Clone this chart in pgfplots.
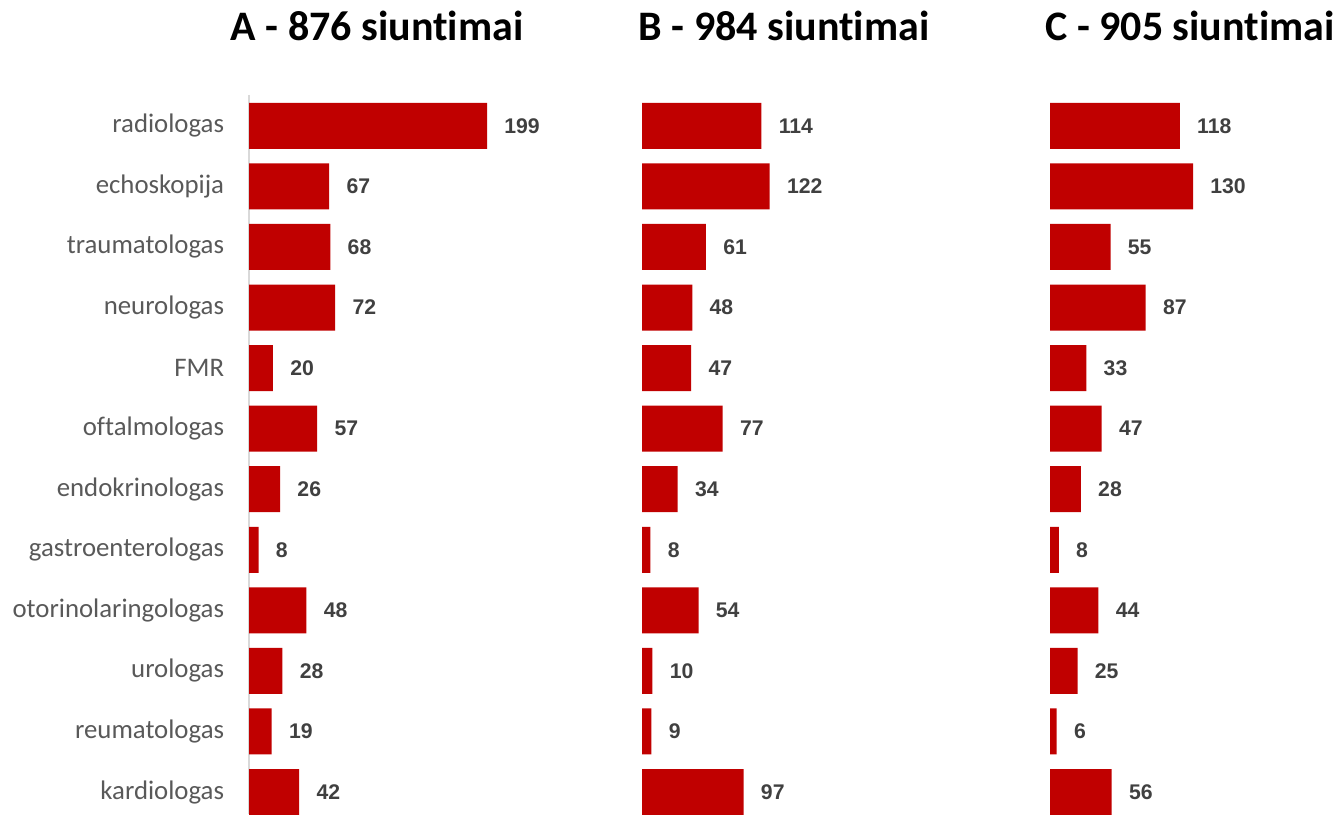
\documentclass[border=0pt]{standalone}
\usepackage{pgfplots}
\pgfplotsset{compat=1.18}
\usepackage{fontspec}
\setmainfont{Carlito}[Ligatures=NoCommon]
\newfontfamily\valfont{Liberation Sans}
\definecolor{barred}{HTML}{C00000}
\definecolor{catgray}{HTML}{595959}
\definecolor{valgray}{HTML}{404040}
\definecolor{axgray}{HTML}{D9D9D9}

\pgfplotsset{
  panel/.style={
    xbar, y dir=reverse, y=30.28pt,
    ymin=-0.512, ymax=11.363, xmin=0,
    anchor=south west, bar width=0.76,
    clip=false,
    axis x line=none,
    xtick=\empty,
    point meta=x,
    /pgf/number format/assume math mode=true,
    nodes near coords,
    nodes near coords style={font=\valfont\bfseries\fontsize{10.6}{12}\selectfont,
      text=valgray, anchor=west, inner sep=0pt, xshift=8.5pt},
  },
  redbar/.style={fill=barred, draw=none},
}

\begin{document}
\begin{tikzpicture}
\useasboundingbox (0,0) rectangle (668.5pt,407pt);

% A
\begin{axis}[panel, at={(124.5pt,0pt)}, x=0.598pt, xmax=260,
  axis y line*=left,
  y axis line style={draw=axgray, line width=1pt, -},
  ytick={0,...,11},
  ytick style={draw=none},
  yticklabels={radiologas, echoskopija, traumatologas, neurologas, FMR,
    oftalmologas, endokrinologas, gastroenterologas, otorinolaringologas,
    urologas, reumatologas, kardiologas},
  yticklabel style={font=\fontsize{13.4}{15}\selectfont, text=catgray,
    anchor=east, inner sep=0pt, xshift=-8pt},
]
\addplot[redbar] coordinates {(199,0) (67,1) (68,2) (72,3) (20,4) (57,5)
  (26,6) (8,7) (48,8) (28,9) (19,10) (42,11)};
\end{axis}

% B
\begin{axis}[panel, at={(321pt,0pt)}, x=0.5235pt, xmax=180,
  axis y line=none, ytick=\empty]
\addplot[redbar] coordinates {(114,0) (122,1) (61,2) (48,3) (47,4) (77,5)
  (34,6) (8,7) (54,8) (10,9) (9,10) (97,11)};
\end{axis}

% C
\begin{axis}[panel, at={(525pt,0pt)}, x=0.55pt, xmax=190,
  axis y line=none, ytick=\empty]
\addplot[redbar] coordinates {(118,0) (130,1) (55,2) (87,3) (33,4) (47,5)
  (28,6) (8,7) (44,8) (25,9) (6,10) (56,11)};
\end{axis}

\begin{scope}[every node/.style={font=\bfseries\fontsize{21}{24}\selectfont, text=black}]
\node at (188.5pt,394pt) {A - 876 siuntimai};
\node at (392pt,394pt) {B - 984 siuntimai};
\node at (595pt,394pt) {C - 905 siuntimai};
\end{scope}
\end{tikzpicture}
\end{document}
